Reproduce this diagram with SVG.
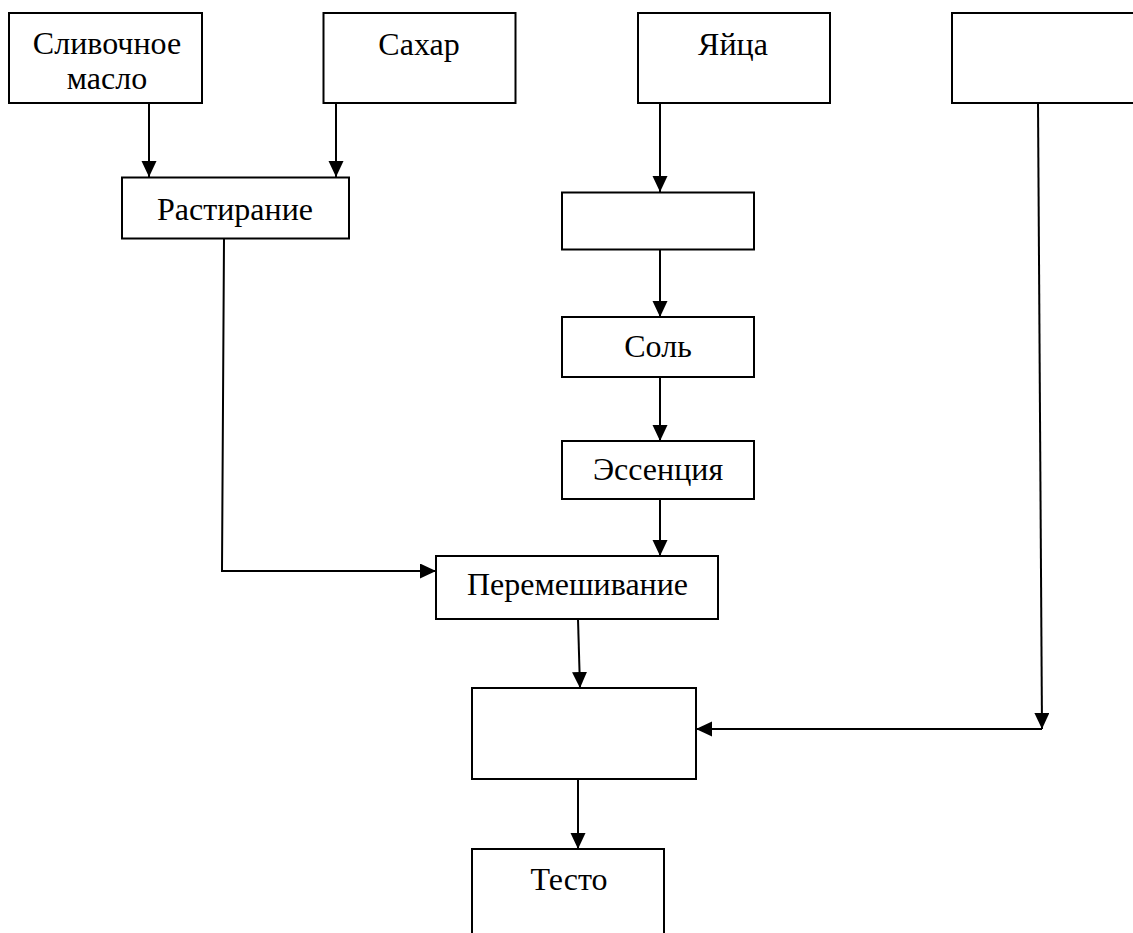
<svg xmlns="http://www.w3.org/2000/svg" width="1133" height="933" viewBox="0 0 1133 933">
<style>
.box{fill:#fff;stroke:#000;stroke-width:2}
.lbl{font-family:"Liberation Serif","Times New Roman",serif;font-size:32px;fill:#000;text-anchor:middle}
.con{fill:none;stroke:#000;stroke-width:2}
</style>
<defs>
<marker id="arr" markerUnits="userSpaceOnUse" markerWidth="17" markerHeight="16" refX="16" refY="7.5" orient="auto">
<path d="M0,0 L16,7.5 L0,15 Z" fill="#000"/>
</marker>
</defs>
<rect width="1133" height="933" fill="#fff"/>
<g id="connectors">
<path class="con" d="M149,103 V177" marker-end="url(#arr)"/>
<path class="con" d="M336,103 V177" marker-end="url(#arr)"/>
<path class="con" d="M660,103 V192" marker-end="url(#arr)"/>
<path class="con" d="M660,249 V317" marker-end="url(#arr)"/>
<path class="con" d="M660,377 V441" marker-end="url(#arr)"/>
<path class="con" d="M660,499 V556" marker-end="url(#arr)"/>
<path class="con" d="M224,238 L222,571 H436" marker-end="url(#arr)"/>
<path class="con" d="M578,619 L580,688" marker-end="url(#arr)"/>
<path class="con" d="M1038,103 L1042,729" marker-end="url(#arr)"/>
<path class="con" d="M1042,729 H696" marker-end="url(#arr)"/>
<path class="con" d="M578,779 V849" marker-end="url(#arr)"/>
</g>
<g id="n1"><rect class="box" x="9" y="13" width="193" height="90"/><text class="lbl" x="107" y="54">Сливочное</text><text class="lbl" x="107" y="89">масло</text></g>
<g id="n2"><rect class="box" x="323.5" y="13" width="192" height="90"/><text class="lbl" x="419" y="55">Сахар</text></g>
<g id="n3"><rect class="box" x="638" y="13" width="192" height="90"/><text class="lbl" x="733" y="55">Яйца</text></g>
<g id="n4"><rect class="box" x="952" y="13" width="192" height="90"/></g>
<g id="n5"><rect class="box" x="122" y="177.5" width="227" height="61"/><text class="lbl" x="235" y="220">Растирание</text></g>
<g id="n6"><rect class="box" x="562" y="192.5" width="192" height="57"/></g>
<g id="n7"><rect class="box" x="562" y="317" width="192" height="60"/><text class="lbl" x="658" y="357">Соль</text></g>
<g id="n8"><rect class="box" x="562" y="441" width="192" height="58"/><text class="lbl" x="658" y="480">Эссенция</text></g>
<g id="n9"><rect class="box" x="436" y="556" width="282" height="63"/><text class="lbl" x="577.5" y="595">Перемешивание</text></g>
<g id="n10"><rect class="box" x="472" y="688" width="224" height="91"/></g>
<g id="n11"><rect class="box" x="472" y="849" width="192" height="100"/><text class="lbl" x="569" y="890">Тесто</text></g>
</svg>
